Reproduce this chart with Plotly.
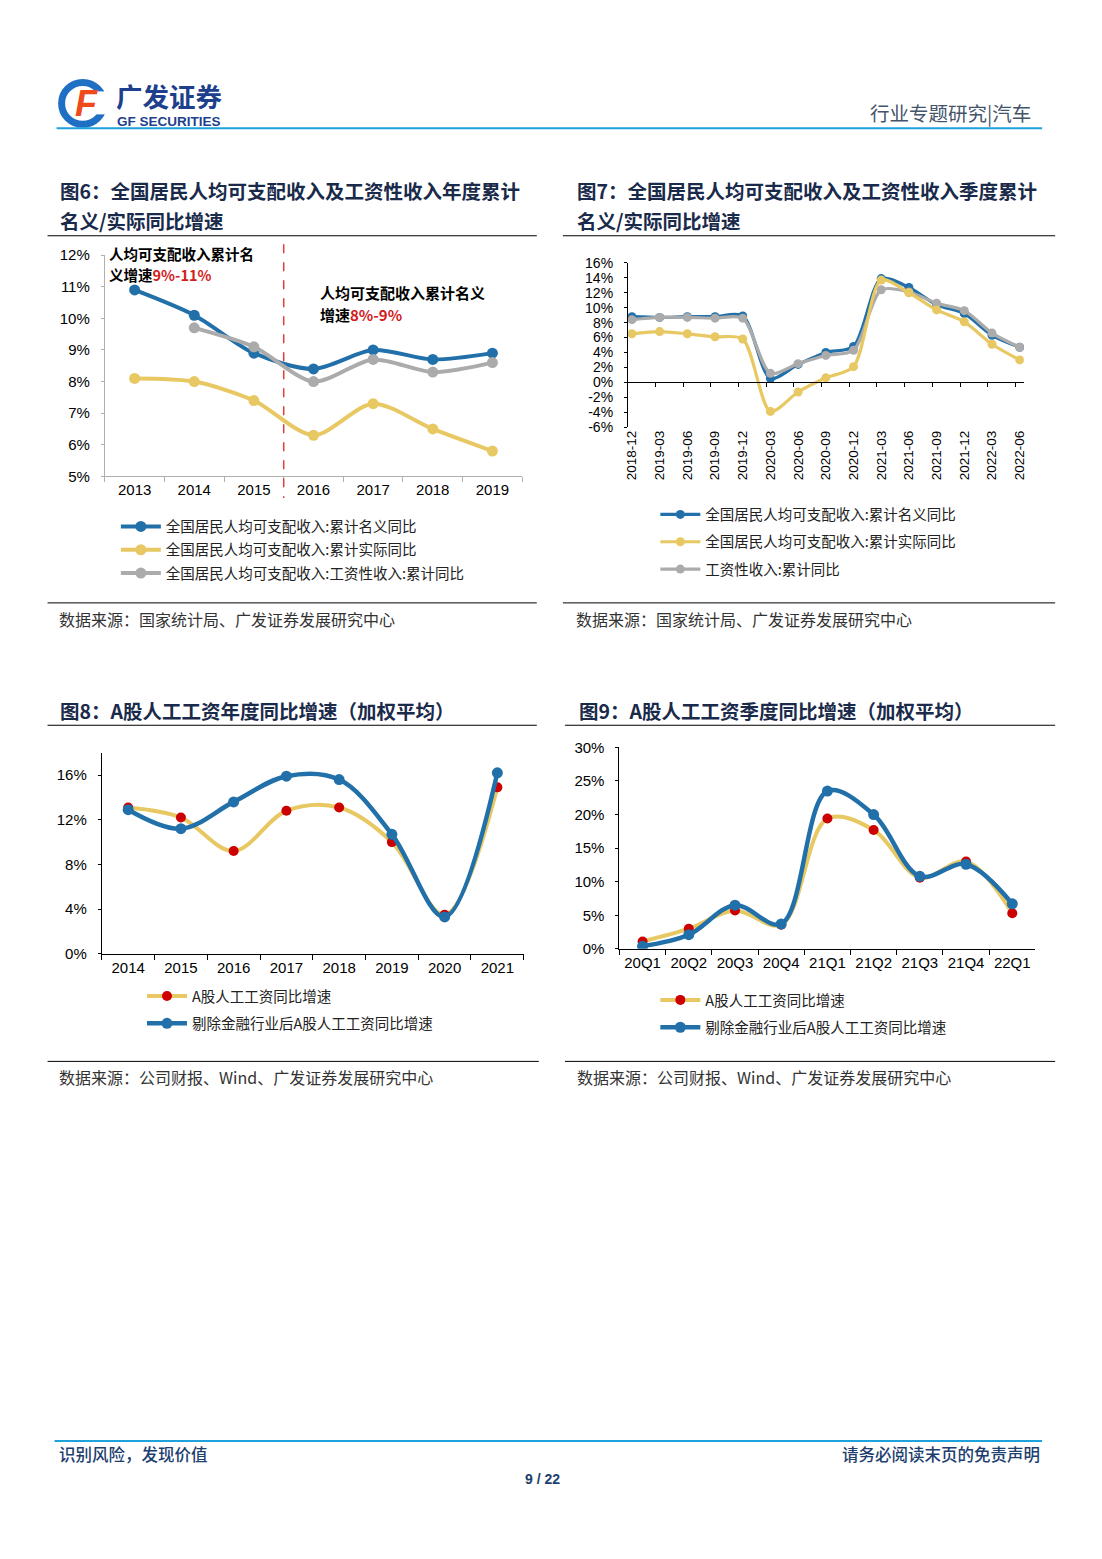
import plotly.graph_objects as go

# page is 1102x1559; the browser body keeps its 8px margin, so the figure is 1086x1543.
W, H = 1102, 1559
M = 8
FW, FH = W - 2 * M, H - 2 * M
# measured correction of the photographed page (slight shrink + offset)
SX, OX = 0.989, 6.7
SY, OY = 0.990, 7.6
def px(x): return ((x - OX) / SX - M) / FW
def py(y): return 1 - ((y - OY) / SY - M) / FH

LAT = "Liberation Sans, Arial, Noto Sans CJK SC"
CJK = "Noto Sans CJK SC, Liberation Sans"
NAVY = "#1a2a4a"
BLUE = "#2270aa"
YELLOW = "#e8c862"
GRAY = "#ababab"
RED = "#cc0000"

# ---------- data: figure 6 ----------
years6 = ['2013', '2014', '2015', '2016', '2017', '2018', '2019']
nominal6 = [10.9, 10.1, 8.9, 8.4, 9.0, 8.7, 8.9]
real6 = [8.1, 8.0, 7.4, 6.3, 7.3, 6.5, 5.8]
wage6 = [None, 9.7, 9.1, 8.0, 8.7, 8.3, 8.6]
names6 = ['全国居民人均可支配收入:累计名义同比',
          '全国居民人均可支配收入:累计实际同比',
          '全国居民人均可支配收入:工资性收入:累计同比']
yticks6 = [5, 6, 7, 8, 9, 10, 11, 12]

# ---------- data: figure 7 ----------
quarters7 = ['2018-12', '2019-03', '2019-06', '2019-09', '2019-12',
             '2020-03', '2020-06', '2020-09', '2020-12',
             '2021-03', '2021-06', '2021-09', '2021-12',
             '2022-03', '2022-06']
nominal7 = [8.8, 8.7, 8.8, 8.8, 8.9, 0.5, 2.4, 4.0, 4.8, 13.9, 12.7, 10.4, 9.2, 6.3, 4.7]
real7 = [6.5, 6.8, 6.5, 6.1, 5.8, -3.9, -1.3, 0.6, 2.1, 13.7, 12.0, 9.7, 8.1, 5.1, 3.0]
wage7 = [8.4, 8.7, 8.7, 8.6, 8.6, 1.2, 2.5, 3.6, 4.3, 12.4, 12.1, 10.6, 9.6, 6.6, 4.7]
names7 = ['全国居民人均可支配收入:累计名义同比',
          '全国居民人均可支配收入:累计实际同比',
          '工资性收入:累计同比']
yticks7 = [-6, -4, -2, 0, 2, 4, 6, 8, 10, 12, 14, 16]

# ---------- data: figure 8 ----------
years8 = ['2014', '2015', '2016', '2017', '2018', '2019', '2020', '2021']
all8 = [13.1, 12.2, 9.2, 12.8, 13.1, 10.0, 3.5, 14.9]
exfin8 = [12.9, 11.2, 13.6, 15.9, 15.6, 10.7, 3.3, 16.2]
yticks8 = [0, 4, 8, 12, 16]

# ---------- data: figure 9 ----------
quarters9 = ['20Q1', '20Q2', '20Q3', '20Q4', '21Q1', '21Q2', '21Q3', '21Q4', '22Q1']
all9 = [1.1, 3.0, 5.7, 3.6, 19.4, 17.7, 10.6, 13.0, 5.3]
exfin9 = [0.4, 2.1, 6.5, 3.7, 23.5, 20.0, 10.8, 12.6, 6.7]
yticks9 = [0, 5, 10, 15, 20, 25, 30]
names89 = ['A股人工工资同比增速', '剔除金融行业后A股人工工资同比增速']

def pct(vals):
    return ['%d%%' % v for v in vals]

fig = go.Figure()

# ---- figure 6 traces ----
for vals, col, nm, rk in [(nominal6, BLUE, names6[0], 1), (real6, YELLOW, names6[1], 2),
                          (wage6, GRAY, names6[2], 3)]:
    fig.add_trace(go.Scatter(x=years6, y=vals, name=nm, mode='lines+markers',
                             line=dict(color=col, width=4, shape='spline', smoothing=0.8),
                             marker=dict(color=col, size=11), xaxis='x', yaxis='y',
                             legend='legend', legendrank=rk, legendgroup='g6%d' % rk,
                             connectgaps=False))

# ---- figure 7 traces (draw order: blue, gray, yellow) ----
x7 = list(range(len(quarters7)))
for vals, col, nm, rk in [(nominal7, BLUE, names7[0], 1), (wage7, GRAY, names7[2], 3),
                          (real7, YELLOW, names7[1], 2)]:
    fig.add_trace(go.Scatter(x=x7, y=vals, name=nm, mode='lines+markers',
                             line=dict(color=col, width=3.2, shape='spline', smoothing=0.8),
                             marker=dict(color=col, size=9), xaxis='x2', yaxis='y2',
                             legend='legend2', legendrank=rk, legendgroup='g7%d' % rk))
fig.add_trace(go.Scatter(x=[None], y=[None], xaxis='x5', yaxis='y2', showlegend=False,
                         hoverinfo='skip'))

# ---- figure 8 traces ----
fig.add_trace(go.Scatter(x=years8, y=all8, name=names89[0], mode='lines+markers',
                         line=dict(color=YELLOW, width=4, shape='spline', smoothing=1.0),
                         marker=dict(color=RED, size=10), xaxis='x3', yaxis='y3',
                         legend='legend3', legendgroup='g81'))
fig.add_trace(go.Scatter(x=years8, y=exfin8, name=names89[1], mode='lines+markers',
                         line=dict(color=BLUE, width=4.5, shape='spline', smoothing=1.0),
                         marker=dict(color=BLUE, size=11), xaxis='x3', yaxis='y3',
                         legend='legend3', legendgroup='g82'))

# ---- figure 9 traces ----
fig.add_trace(go.Scatter(x=quarters9, y=all9, name=names89[0], mode='lines+markers',
                         line=dict(color=YELLOW, width=4, shape='spline', smoothing=1.0),
                         marker=dict(color=RED, size=10), xaxis='x4', yaxis='y4',
                         legend='legend4', legendgroup='g91'))
fig.add_trace(go.Scatter(x=quarters9, y=exfin9, name=names89[1], mode='lines+markers',
                         line=dict(color=BLUE, width=4.5, shape='spline', smoothing=1.0),
                         marker=dict(color=BLUE, size=11), xaxis='x4', yaxis='y4',
                         legend='legend4', legendgroup='g92'))

tick15 = dict(family=LAT, size=15, color='#000')
tick14 = dict(family=LAT, size=14, color='#000')
legfont = dict(family=CJK, size=14.5, color='#222')

layout = dict(
    width=FW, height=FH, autosize=False,
    margin=dict(l=0, r=0, t=0, b=0, pad=0),
    paper_bgcolor='white', plot_bgcolor='white',
    font=dict(family=CJK, color='#000'),
    # figure 6
    xaxis=dict(domain=[px(107), px(522.5)], anchor='y', type='category',
               range=[-0.5, 6.5], tickson='boundaries', ticks='outside', ticklen=5,
               tickcolor='#b0b0b0', showline=True, linecolor='#b0b0b0', linewidth=1,
               showgrid=False, tickfont=tick15, fixedrange=True),
    yaxis=dict(domain=[py(475.3), py(254)], anchor='x', range=[5, 12],
               tickvals=yticks6, ticktext=pct(yticks6), showline=True,
               linecolor='#b0b0b0', ticks='outside', ticklen=3, tickcolor='#b0b0b0',
               ticklabelstandoff=8, showgrid=False, zeroline=False,
               tickfont=tick15, fixedrange=True),
    # figure 7
    xaxis2=dict(domain=[px(627.7), px(1021.7)], anchor='y2', range=[-0.145, 14.145],
                tickvals=x7, ticktext=quarters7, tickangle=-90, ticks='',
                showline=False, showgrid=False, zeroline=False,
                tickfont=dict(family=LAT, size=13.5, color='#000'), fixedrange=True),
    xaxis5=dict(domain=[px(627.7), px(1021.7)], overlaying='x2', anchor='free',
                position=py(381), range=[-0.145, 14.145],
                tickvals=[i - 0.155 for i in range(1, len(quarters7))],
                showticklabels=False, ticks='outside', ticklen=4, tickcolor='#000',
                showline=True, linecolor='#000', linewidth=1, showgrid=False,
                zeroline=False, fixedrange=True),
    yaxis2=dict(domain=[py(426), py(261.7)], anchor='x2', range=[-6, 16],
                tickvals=yticks7, ticktext=pct(yticks7), showline=True,
                linecolor='#000', ticks='outside', ticklen=3, tickcolor='#000',
                ticklabelstandoff=8, showgrid=False, zeroline=False,
                tickfont=tick14, fixedrange=True),
    # figure 8
    xaxis3=dict(domain=[px(104), px(524)], anchor='y3', type='category',
                range=[-0.5, 7.5], tickson='boundaries', ticks='outside', ticklen=5,
                tickcolor='#000', showline=True, linecolor='#000', showgrid=False,
                tickangle=0, tickfont=tick15, fixedrange=True),
    yaxis3=dict(domain=[py(953.3), py(752)], anchor='x3', range=[0, 18],
                tickvals=yticks8, ticktext=pct(yticks8), showline=True,
                linecolor='#000', ticks='outside', ticklen=3, tickcolor='#000',
                ticklabelstandoff=8, showgrid=False, zeroline=False, tickfont=tick15,
                fixedrange=True),
    # figure 9
    xaxis4=dict(domain=[px(619.3), px(1033.3)], anchor='y4', type='category',
                range=[-0.5, 8.5], tickson='boundaries', ticks='outside', ticklen=5,
                tickcolor='#000', showline=True, linecolor='#000', showgrid=False,
                tickangle=0, tickfont=tick15, fixedrange=True),
    yaxis4=dict(domain=[py(948.3), py(746.7)], anchor='x4', range=[0, 30],
                tickvals=yticks9, ticktext=pct(yticks9), showline=True,
                linecolor='#000', ticks='outside', ticklen=3, tickcolor='#000',
                ticklabelstandoff=8, showgrid=False, zeroline=False,
                tickfont=tick15, fixedrange=True),
    legend=dict(x=px(118), y=py(509.5), xanchor='left', yanchor='top', font=legfont,
                itemwidth=40, bgcolor='rgba(0,0,0,0)', tracegroupgap=1.5,
                traceorder='grouped'),
    legend2=dict(x=px(655), y=py(497.5), xanchor='left', yanchor='top', font=legfont,
                 itemwidth=40, bgcolor='rgba(0,0,0,0)', tracegroupgap=5.5,
                 traceorder='grouped'),
    legend3=dict(x=px(144), y=py(979.5), xanchor='left', yanchor='top', font=legfont,
                 itemwidth=40, bgcolor='rgba(0,0,0,0)', tracegroupgap=5.5,
                 traceorder='grouped'),
    legend4=dict(x=px(655), y=py(983.5), xanchor='left', yanchor='top', font=legfont,
                 itemwidth=40, bgcolor='rgba(0,0,0,0)', tracegroupgap=5.5,
                 traceorder='grouped'),
    showlegend=True,
)
fig.update_layout(**layout)

ann = []
shp = []

def text(x, y, s, size, color=NAVY, anchor='left', family=CJK, yanchor='middle',
         weight=None):
    f = dict(family=family, size=size, color=color)
    if weight:
        f['weight'] = weight
    ann.append(dict(x=px(x), y=py(y), xref='paper', yref='paper', text=s, showarrow=False,
                    xanchor=anchor, yanchor=yanchor, align='left', font=f))

def hline(x0, x1, y, color='#000', width=1):
    shp.append(dict(type='line', xref='paper', yref='paper', x0=px(x0), x1=px(x1),
                    y0=py(y), y1=py(y), line=dict(color=color, width=width)))

# header
shp.append(dict(type='circle', xref='paper', yref='paper', x0=px(64), x1=px(106),
                y0=py(123), y1=py(81), line=dict(color='#1f6fc4', width=7)))
shp.append(dict(type='rect', xref='paper', yref='paper', x0=px(94), x1=px(111),
                y0=py(113), y1=py(90), line=dict(width=0), fillcolor='white'))
text(89, 102, '<b><i>F</i></b>', 36, color='#ee4a1c', anchor='center', family=LAT)
text(116, 94, '<b>广发证券</b>', 26.5, color='#1d3f8c')
text(117, 120, '<b>GF SECURITIES</b>', 13.5, color='#1d3f8c', family=LAT)
text(1031, 111, '行业专题研究|汽车', 19.5, color='#44546a', anchor='right')
hline(59, 1040, 127, color='#1ea2dc', width=2)

# titles
text(60, 189, '<b>图6：全国居民人均可支配收入及工资性收入年度累计</b>', 19.5, color=NAVY)
text(60, 219, '<b>名义/实际同比增速</b>', 19.5, color=NAVY)
text(575, 189, '<b>图7：全国居民人均可支配收入及工资性收入季度累计</b>', 19.5, color=NAVY)
text(575, 219, '<b>名义/实际同比增速</b>', 19.5, color=NAVY)
hline(50, 537, 234.5)
hline(563, 1053, 234.5)
text(60, 710, '<b>图8：A股人工工资年度同比增速（加权平均）</b>', 19.5, color=NAVY)
text(577, 710, '<b>图9：A股人工工资季度同比增速（加权平均）</b>', 19.5, color=NAVY)
hline(50, 537, 724.5)
hline(565, 1053, 724.5)

# sources
hline(50, 537, 602)
hline(563, 1053, 602)
text(59, 618, '数据来源：国家统计局、广发证券发展研究中心', 16, color='#333')
text(574, 618, '数据来源：国家统计局、广发证券发展研究中心', 16, color='#333')
hline(50, 539, 1061)
hline(565, 1053, 1061)
text(59, 1077, '数据来源：公司财报、Wind、广发证券发展研究中心', 16, color='#333')
text(575, 1077, '数据来源：公司财报、Wind、广发证券发展研究中心', 16, color='#333')

# chart 6 annotations (one text per line, spaced so the lines do not collide)
text(109, 252, '<b>人均可支配收入累计名</b>', 14.5, color='#000')
text(109, 273, "<b>义增速<span style='color:#d41c1c'>9%-11%</span></b>", 14.5, color='#000')
text(319, 291, '<b>人均可支配收入累计名义</b>', 15, color='#000')
text(319, 313, "<b>增速<span style='color:#d41c1c'>8%-9%</span></b>", 15, color='#000')
shp.append(dict(type='line', xref='x', yref='paper', x0=2.5, x1=2.5, y0=py(243), y1=py(497),
                line=dict(color='#e03c3c', width=1.5, dash='dash')))

# footer
hline(57, 1040, 1441, color='#1ea2dc', width=2)
text(59, 1454, '识别风险，发现价值', 16.5, color='#1d3e6e', weight=500)
text(1040, 1454, '请务必阅读末页的免责声明', 16.5, color='#1d3e6e', anchor='right', weight=500)
text(543, 1479, '<b>9 / 22</b>', 14, color='#1d3e6e', anchor='center', family=LAT)

fig.update_layout(annotations=ann, shapes=shp)
fig.write_html("out.html", config={'displayModeBar': False})
